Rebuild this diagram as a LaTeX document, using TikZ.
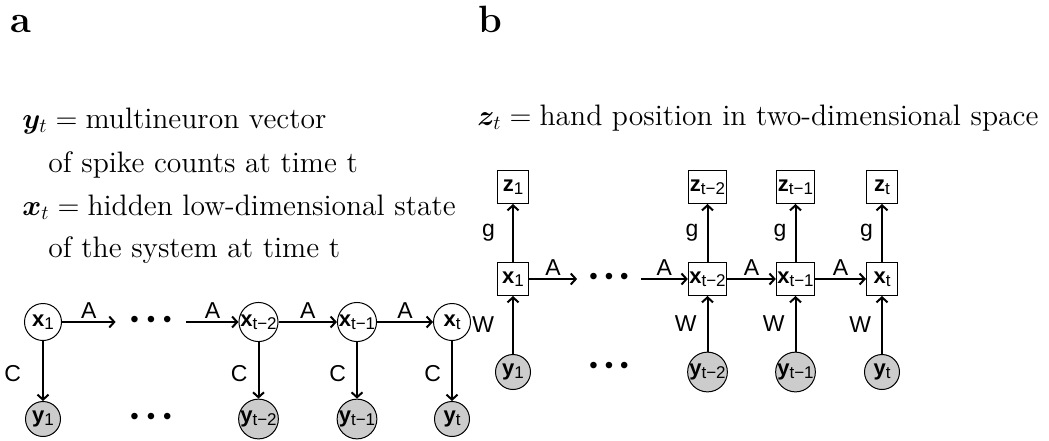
\documentclass[tikz,border=0pt]{standalone}
\usepackage{amsmath}
\usepackage{bm}
\usepackage{fontspec}
\setsansfont{Liberation Sans}
\usetikzlibrary{arrows.meta}

\newcommand{\nodeVar}[2]{\textbf{#1}{\fontsize{8.5}{9}\selectfont\raisebox{-0.3ex}{#2}}}

\begin{document}
\begin{tikzpicture}
[x=0.5pt,y=-0.5pt,
  lineDecorate/.style={-{Straight Barb[length=2.5pt,width=5.5pt]},line width=1pt},%
  hiddenDecorate/.style={shape=circle,draw,line width=0.5pt,minimum size=18.5pt,inner sep=0pt,
    font=\sffamily\fontsize{11}{12}\selectfont},%
  obsDecorate/.style={hiddenDecorate,fill=black!20,minimum size=17.5pt},%
  boxDecorate/.style={shape=rectangle,draw,line width=0.5pt,minimum width=15.5pt,
    minimum height=16.5pt,inner sep=0.5pt,font=\sffamily\fontsize{11}{12}\selectfont},%
  dotsDecorate/.style={inner sep=0pt,font=\sffamily\fontsize{12}{12}\selectfont},%
  labelDecorate/.style={inner sep=1.5pt,font=\sffamily\fontsize{11.5}{12}\selectfont},%
  textDecorate/.style={anchor=base west,inner sep=0pt,font=\fontsize{14.8}{17}\selectfont},%
  panelDecorate/.style={anchor=base west,inner sep=0pt,font=\bfseries\fontsize{19}{20}\selectfont}]
\useasboundingbox (0,0) rectangle (1049,440);
%% panel letters and legends
\node (panela) at (10,32) [panelDecorate] {a};
\node (panelb) at (478,32) [panelDecorate] {b};
\node (ytext) at (22,128) [textDecorate] {$\bm{y}_t = \text{multineuron vector}$};
\node (ytextb) at (48,172) [textDecorate] {of spike counts at time t};
\node (xtext) at (22,215) [textDecorate] {$\bm{x}_t = \text{hidden low-dimensional state}$};
\node (xtextb) at (48,257) [textDecorate] {of the system at time t};
\node (ztext) at (477,125) [textDecorate] {$\bm{z}_t = \text{hand position in two-dimensional space}$};
%% panel a: nodes
\foreach \nodename/\x/\sub in {1/43/1, 3/258.5/t−2, 4/357/t−1, 5/452/t}
{
  \node (xa\nodename) at (\x,322) [hiddenDecorate] {\nodeVar{x}{\sub}};
  \node (ya\nodename) at (\x,419) [obsDecorate] {\nodeVar{y}{\sub}};
}
\node (dotsa) at (151,322) [dotsDecorate,minimum width=35pt] {•\hspace{4pt}•\hspace{4pt}•};
\node (dotsya) at (151,419) [dotsDecorate] {•\hspace{4pt}•\hspace{4pt}•};
%% panel a: edges
\draw[lineDecorate] (xa1) -- node[labelDecorate,above] {A} (dotsa);
\draw[lineDecorate] (dotsa) -- node[labelDecorate,above] {A} (xa3);
\foreach \startnode/\endnode in {3/4, 4/5}
  \draw[lineDecorate] (xa\startnode) -- node[labelDecorate,above] {A} (xa\endnode);
\draw[lineDecorate] (xa1) -- node[labelDecorate,left=9pt,pos=0.55] {C} (ya1);
\foreach \nodename in {3,4,5}
  \draw[lineDecorate] (xa\nodename) -- node[labelDecorate,left=3.5pt,pos=0.55] {C} (ya\nodename);
%% panel b: nodes
\foreach \nodename/\x/\sub in {1/513/1, 3/707.5/t−2, 4/795.5/t−1, 5/882/t}
{
  \node (zb\nodename) at (\x,187) [boxDecorate] {\nodeVar{z}{\sub}};
  \node (xb\nodename) at (\x,279) [boxDecorate] {\nodeVar{x}{\sub}};
  \node (yb\nodename) at (\x,372) [obsDecorate] {\nodeVar{y}{\sub}};
}
\node (dotsb) at (609,279) [dotsDecorate,minimum width=31.5pt] {•\hspace{3.5pt}•\hspace{3.5pt}•};
\node (dotsyb) at (609,368) [dotsDecorate] {•\hspace{3.5pt}•\hspace{3.5pt}•};
%% panel b: edges
\draw[lineDecorate] (xb1) -- node[labelDecorate,above] {A} (dotsb);
\draw[lineDecorate] (dotsb) -- node[labelDecorate,above] {A} (xb3);
\foreach \startnode/\endnode in {3/4, 4/5}
  \draw[lineDecorate] (xb\startnode) -- node[labelDecorate,above] {A} (xb\endnode);
\draw[lineDecorate] (xb1) -- node[labelDecorate,left=7pt] {g} (zb1);
\draw[lineDecorate] (yb1) -- node[labelDecorate,left=7.5pt] {W} (xb1);
\foreach \nodename in {3,4,5}
{
  \draw[lineDecorate] (xb\nodename) -- node[labelDecorate,left=2.5pt] {g} (zb\nodename);
  \draw[lineDecorate] (yb\nodename) -- node[labelDecorate,left=3.5pt] {W} (xb\nodename);
}
\end{tikzpicture}
\end{document}
